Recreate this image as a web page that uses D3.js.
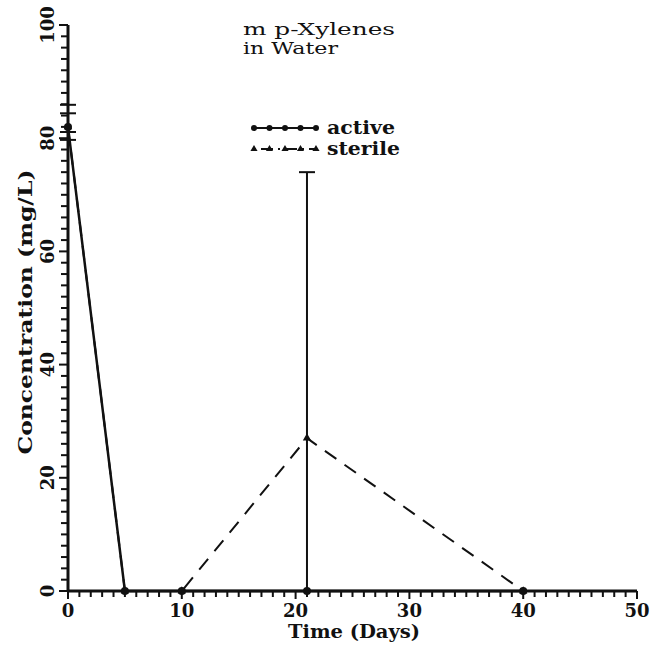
<!DOCTYPE html>
<html>
<head>
<meta charset="utf-8">
<script src="https://cdnjs.cloudflare.com/ajax/libs/d3/7.8.5/d3.min.js"></script>
<style>
  body { margin: 0; background: #fff; }
  text { font-family: "DejaVu Serif", "Liberation Serif", serif; font-weight: bold; fill: #111; }
</style>
</head>
<body>
<svg id="chart"></svg>
<script>
// days and concentrations
const days = [0, 5, 10, 21, 40]
const active = [82, 0, 0, 0, 0]
const sterile = [82, 0, 0, 27, 0]
// error bars: [day, low, high]
const activeErr = [[0, 79.7, 84.4], [21, 0, 74]]
const sterileErr = [[0, 81.1, 85.9]]
const xTicks = [0, 10, 20, 30, 40, 50]
const yTicks = [0, 20, 40, 60, 80, 100]
const titleLines = ['m p-Xylenes', 'in Water']
const legendNames = ['active', 'sterile']

const width = 651
const height = 656
const svg = d3.select('#chart').attr('width', width).attr('height', height)

const x = d3.scaleLinear().domain([0, 50]).range([68, 637])
const y = d3.scaleLinear().domain([0, 100]).range([591, 25])

// axes lines
svg.append('line').attr('x1', x(0)).attr('x2', x(50)).attr('y1', y(0)).attr('y2', y(0))
  .attr('stroke', '#111').attr('stroke-width', 3)
svg.append('line').attr('x1', x(0)).attr('x2', x(0)).attr('y1', y(0)).attr('y2', y(100))
  .attr('stroke', '#111').attr('stroke-width', 3)

// minor ticks
svg.append('g').selectAll('line').data(d3.range(0, 51, 1)).enter().append('line')
  .attr('x1', d => x(d)).attr('x2', d => x(d))
  .attr('y1', y(0)).attr('y2', d => y(0) + (d % 10 === 0 ? 8 : 6))
  .attr('stroke', '#111').attr('stroke-width', 2)
svg.append('g').selectAll('line').data(d3.range(0, 101, 2)).enter().append('line')
  .attr('x1', x(0)).attr('x2', d => x(0) - (d % 20 === 0 ? 9 : 7))
  .attr('y1', d => y(d)).attr('y2', d => y(d))
  .attr('stroke', '#111').attr('stroke-width', 2)

// tick labels
svg.append('g').selectAll('text').data(xTicks).enter().append('text')
  .attr('x', d => x(d)).attr('y', 617)
  .attr('text-anchor', 'middle').style('font-size', '18px')
  .text(d => d)
svg.append('g').selectAll('text').data(yTicks).enter().append('text')
  .attr('transform', d => 'translate(54,' + y(d) + ') rotate(-90)')
  .attr('text-anchor', 'middle').style('font-size', '18px')
  .text(d => d)

// axis titles
svg.append('text').attr('x', 354).attr('y', 638)
  .attr('text-anchor', 'middle').style('font-size', '18px')
  .attr('textLength', 132).attr('lengthAdjust', 'spacingAndGlyphs')
  .text('Time (Days)')
svg.append('text').attr('transform', 'translate(32,312) rotate(-90)')
  .attr('text-anchor', 'middle').style('font-size', '18px')
  .attr('textLength', 285).attr('lengthAdjust', 'spacingAndGlyphs')
  .text('Concentration (mg/L)')

// title
const titleW = [152, 95]
svg.append('g').selectAll('text').data(titleLines).enter().append('text')
  .attr('x', 243).attr('y', (d, i) => 35 + i * 19)
  .style('font-size', '17px').style('font-weight', 'normal')
  .attr('textLength', (d, i) => titleW[i]).attr('lengthAdjust', 'spacingAndGlyphs')
  .text(d => d)

// lines
const line = d3.line().x(d => x(d[0])).y(d => y(d[1]))
svg.append('path').datum(days.map((d, i) => [d, sterile[i]]))
  .attr('d', line).attr('fill', 'none').attr('stroke', '#111')
  .attr('stroke-width', 2).attr('stroke-dasharray', '14,10')
svg.append('path').datum(days.map((d, i) => [d, active[i]]))
  .attr('d', line).attr('fill', 'none').attr('stroke', '#111')
  .attr('stroke-width', 2.5)

// error bars
function errBars(data) {
  const g = svg.append('g').attr('stroke', '#111').attr('stroke-width', 2)
  data.forEach(e => {
    g.append('line').attr('x1', x(e[0])).attr('x2', x(e[0])).attr('y1', y(e[1])).attr('y2', y(e[2]))
    g.append('line').attr('x1', x(e[0]) - 8).attr('x2', x(e[0]) + 8).attr('y1', y(e[1])).attr('y2', y(e[1]))
    g.append('line').attr('x1', x(e[0]) - 8).attr('x2', x(e[0]) + 8).attr('y1', y(e[2])).attr('y2', y(e[2]))
  })
}
errBars(activeErr)
errBars(sterileErr)

// markers
const tri = d3.symbol().type(d3.symbolTriangle).size(30)
svg.append('g').selectAll('path').data(days.map((d, i) => [d, sterile[i]])).enter().append('path')
  .attr('d', tri).attr('transform', d => 'translate(' + x(d[0]) + ',' + y(d[1]) + ')')
  .attr('fill', '#111')
svg.append('g').selectAll('circle').data(days.map((d, i) => [d, active[i]])).enter().append('circle')
  .attr('cx', d => x(d[0])).attr('cy', d => y(d[1])).attr('r', 4)
  .attr('fill', '#111')

// legend
const leg = svg.append('g')
const legW = [68, 73]
legendNames.forEach((name, i) => {
  const ly = 128 + i * 21
  leg.append('line').attr('x1', 254).attr('x2', 316).attr('y1', ly).attr('y2', ly)
    .attr('stroke', '#111').attr('stroke-width', 2)
    .attr('stroke-dasharray', i === 0 ? null : '2,5,12,5')
  const marks = d3.range(5).map(k => 254 + k * 15.5)
  if (i === 0) {
    leg.selectAll('.lc').data(marks).enter().append('circle')
      .attr('cx', d => d).attr('cy', ly).attr('r', 3).attr('fill', '#111')
  } else {
    leg.selectAll('.lt').data(marks).enter().append('path')
      .attr('d', d3.symbol().type(d3.symbolTriangle).size(22))
      .attr('transform', d => 'translate(' + d + ',' + ly + ')').attr('fill', '#111')
  }
  leg.append('text').attr('x', 327).attr('y', ly + 6).style('font-size', '18px')
    .attr('textLength', legW[i]).attr('lengthAdjust', 'spacingAndGlyphs').text(name)
})
</script>
</body>
</html>
